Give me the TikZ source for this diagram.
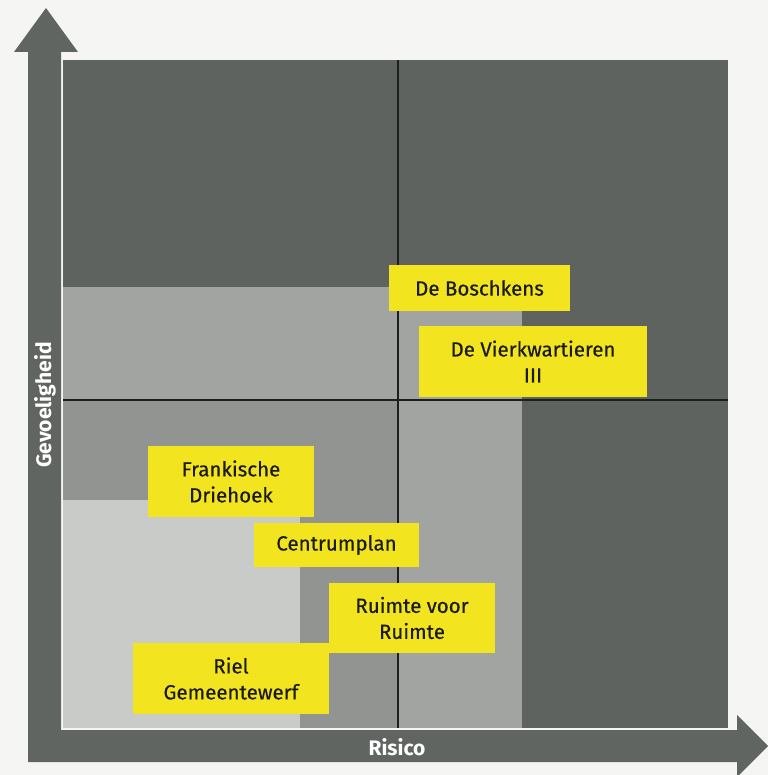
\documentclass[tikz,border=0pt]{standalone}
\usepackage{fontspec}
\setmainfont{Fira Sans}
\definecolor{paper}{RGB}{245,245,243}
\definecolor{darkzone}{RGB}{94,99,96}
\definecolor{axisgray}{RGB}{96,101,98}
\definecolor{midzone}{RGB}{161,164,161}
\definecolor{lowzone}{RGB}{145,148,145}
\definecolor{lightzone}{RGB}{201,203,201}
\definecolor{tagyellow}{RGB}{242,228,30}
\definecolor{inkline}{RGB}{28,31,29}
\definecolor{tagtext}{RGB}{26,26,26}
\tikzset{
  tag/.style={fill=tagyellow, text=tagtext, align=center, inner sep=0pt,
    font=\fontsize{20.5}{26}\selectfont\addfontfeatures{FakeBold=0.4}},
  axislabel/.style={text=white, font=\bfseries\fontsize{21}{24}\selectfont, inner sep=0pt},
  divider/.style={draw=inkline, line width=2.8pt}
}
\begin{document}
\begin{tikzpicture}[x=1pt, y=-1pt]
  % canvas
  \fill[paper] (0,0) rectangle (768,775);
  \useasboundingbox (0,0) rectangle (768,775);

  % axes: one L-shaped arrow body with two heads
  \fill[axisgray] (28,762) -- (28,52) -- (14,52) -- (46,8) -- (78,52) -- (61,52)
    -- (61,730) -- (737,730) -- (737,715) -- (768,746) -- (737,777) -- (737,762) -- cycle;

  % risk field
  \fill[darkzone] (63,60) rectangle (728,728);
  \fill[midzone] (63,287) rectangle (522,728);
  \fill[lowzone] (63,400) rectangle (398,728);
  \fill[lightzone] (63,500) rectangle (300,728);

  % quadrant dividers
  \coordinate (vtop) at (398,60);
  \coordinate (vbot) at (398,728);
  \coordinate (hleft) at (63,400);
  \coordinate (hright) at (728,400);
  \draw[divider] (vtop) -- (vbot);
  \draw[divider] (hleft) -- (hright);

  % axis labels
  \node[axislabel, rotate=90] (ylab) at (45,405) {Gevoeligheid};
  \node[axislabel] (xlab) at (397,747) {Risico};

  % projects
  \node[tag, minimum width=181pt, minimum height=46pt] (bosch) at (479.5,288) {De Boschkens};
  \node[tag, minimum width=228pt, minimum height=71pt] (vier) at (533,361.5) {De Vierkwartieren\\III};
  \node[tag, minimum width=166pt, minimum height=71pt] (frank) at (231,481.5) {Frankische\\Driehoek};
  \node[tag, minimum width=165pt, minimum height=44pt] (centrum) at (336.5,545) {Centrumplan};
  \node[tag, minimum width=166pt, minimum height=70pt] (ruimte) at (412,618) {Ruimte voor\\Ruimte};
  \node[tag, minimum width=196pt, minimum height=71pt] (riel) at (231,678.5) {Riel\\Gemeentewerf};
\end{tikzpicture}
\end{document}
